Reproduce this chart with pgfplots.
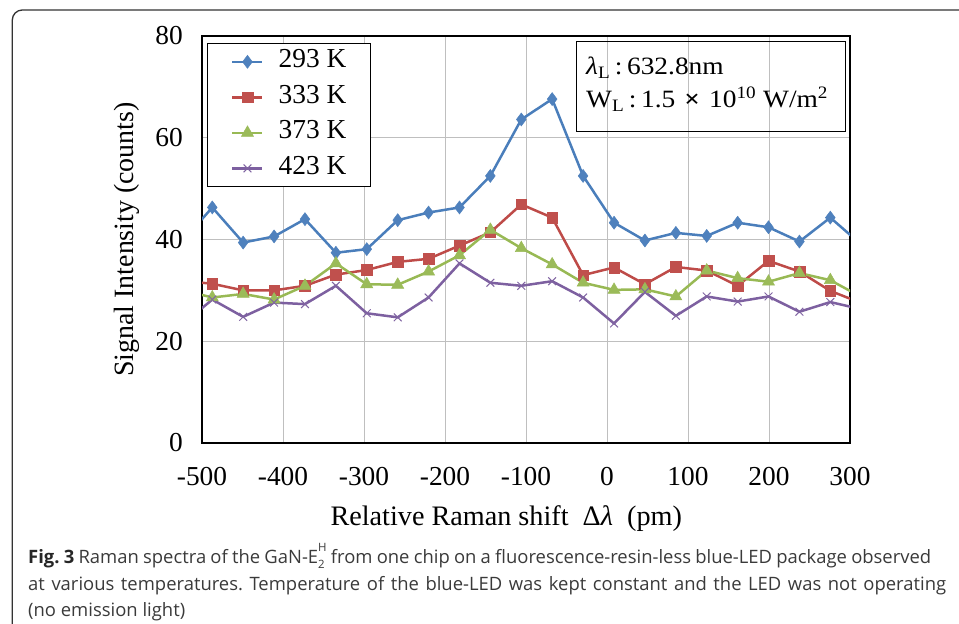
\documentclass[border=0pt]{standalone}
\usepackage{fontspec}
\setmainfont{Liberation Serif}
\newfontfamily\capfont{Open Sans}
\usepackage{graphicx}
\usepackage{pgfplots}
\pgfplotsset{compat=1.18}
\definecolor{cblue}{HTML}{4A7EBB}
\definecolor{cred}{HTML}{BE4B48}
\definecolor{cgreen}{HTML}{98B954}
\definecolor{cpurple}{HTML}{7D60A0}
\definecolor{mblue}{HTML}{4F81BD}
\definecolor{mred}{HTML}{C0504D}
\definecolor{mgreen}{HTML}{9BBB59}
\definecolor{mpurple}{HTML}{8064A2}
\definecolor{captxt}{HTML}{3A3A3A}

\pgfplotstableread{
x      a     b     c     d
-525.5 39.4  31.9  30.1  23.1
-487.3 46.3  31.3  28.6  28.2
-449.2 39.4  30.0  29.3  24.8
-411.0 40.6  30.0  28.2  27.6
-372.9 44.0  30.9  30.9  27.3
-334.7 37.4  33.1  35.3  30.9
-296.6 38.1  34.0  31.2  25.5
-258.4 43.8  35.6  31.1  24.7
-220.3 45.3  36.2  33.7  28.6
-182.1 46.3  38.8  36.9  35.3
-144.0 52.5  41.4  41.9  31.5
-105.8 63.6  46.9  38.3  30.9
-67.7  67.6  44.3  35.1  31.8
-29.5  52.5  33.0  31.5  28.6
8.7    43.3  34.5  30.1  23.5
46.8   39.8  31.2  30.2  29.7
85.0   41.3  34.6  28.8  25.0
123.1  40.7  33.9  33.9  28.8
161.3  43.3  30.9  32.4  27.8
199.4  42.4  35.8  31.7  28.8
237.6  39.6  33.7  33.4  25.8
275.7  44.3  29.9  32.0  27.7
313.9  39.0  27.5  28.7  26.3
}\datatable

\begin{document}
\frenchspacing
\begin{tikzpicture}
\path[use as bounding box] (0,0) rectangle (959bp,624bp);
\draw[line width=1.3bp, color=black!80] (12.3bp,-5bp) -- (12.3bp,604bp) arc[start angle=180,end angle=90,radius=10bp] -- (975bp,614bp);
\begin{axis}[
  at={(202bp,181bp)}, anchor=south west, scale only axis,
  width=648bp, height=407bp,
  xmin=-500, xmax=300, ymin=0, ymax=80,
  xtick={-500,-400,-300,-200,-100,0,100,200,300},
  xticklabels={-500,-400,-300,-200,-100,0,100,200,300},
  ytick={0,20,40,60,80},
  yticklabels={0,20,40,60,80},
  grid=major,
  major grid style={color=black!25, line width=1bp},
  axis line style={line width=2bp},
  major tick length=0pt,
  tick style={draw=none},
  ticklabel style={font=\fontsize{27.5}{27.5}\selectfont, inner sep=0pt},
  xticklabel style={anchor=north},
  yticklabel style={anchor=east},
  xticklabel shift=24bp,
  yticklabel shift=19bp,
  xlabel={Relative Raman shift\ \ Δ{\itshape λ}\ \ (pm)},
  xlabel style={font=\fontsize{28.3}{28.3}\selectfont, anchor=base, at={(axis description cs:0.4695,-0.2032)}, inner sep=0pt},
  ylabel={Signal Intensity (counts)},
  ylabel style={font=\fontsize{28}{28}\selectfont, rotate=0, anchor=base, at={(axis description cs:-0.105,0.5)}, inner sep=0pt},
  legend style={at={(0.0073,0.982)}, anchor=north west, draw=black, line width=1bp,
    inner xsep=24bp, inner ysep=5bp, row sep=9.5bp, column sep=15bp,
    font=\fontsize{27.5}{27.5}\selectfont,
    nodes={inner sep=0pt, text height=19bp, text depth=7bp}},
  legend cell align=left,
  legend image code/.code={\draw[mark repeat=2,mark phase=2] plot coordinates {(0bp,0bp) (15bp,0bp) (30bp,0bp)};},
]
\addplot[color=cblue, line width=2.5bp, mark=diamond*, mark size=6.5bp, mark options={fill=mblue, draw=mblue, line width=0.5bp}] table[x=x,y=a] {\datatable};
\addlegendentry{293 K\hspace{5bp}}
\addplot[color=cred, line width=2.5bp, mark=square*, mark size=5.3bp, mark options={fill=mred, draw=mred, line width=0.5bp}] table[x=x,y=b] {\datatable};
\addlegendentry{333 K\hspace{5bp}}
\addplot[color=cgreen, line width=2.5bp, mark=triangle*, mark size=7bp, mark options={fill=mgreen, draw=mgreen, line width=0.5bp}] table[x=x,y=c] {\datatable};
\addlegendentry{373 K\hspace{5bp}}
\addplot[color=cpurple, line width=2.5bp, mark=x, mark size=5.5bp, mark options={draw=mpurple, line width=1bp}] table[x=x,y=d] {\datatable};
\addlegendentry{423 K\hspace{5bp}}
\end{axis}
\draw[line width=1bp] (576.7bp,492.3bp) rectangle (845.7bp,582.3bp);
\node[anchor=base west, inner sep=0pt, font=\fontsize{25}{25}\selectfont] at (586bp,549bp) {\scalebox{1.1}[1]{{\itshape λ}\textsubscript{L}\,:\,632.8nm}};
\node[anchor=base west, inner sep=0pt, font=\fontsize{25}{25}\selectfont] at (586bp,516bp) {\scalebox{1.1}[1]{W\textsubscript{L}\,:\,1.5\,\,{\bfseries×}\,\,10\textsuperscript{10} W/m\textsuperscript{2}}};
\begin{scope}[every node/.style={anchor=base west, inner sep=0pt, font=\capfont\fontsize{18.5}{18.5}\selectfont, text=captxt}]
\node at (28bp,60.7bp) {\makebox[903bp][s]{{\bfseries\color{black!85}Fig. 3} Raman spectra of the GaN-E\rlap{\raisebox{-0.3em}{\fontsize{11.5}{11.5}\selectfont 2}}\raisebox{0.62em}{\fontsize{11.5}{11.5}\selectfont H} from one chip on a fluorescence-resin-less blue-LED package observed}};
\node at (28bp,34bp) {\makebox[918bp][s]{at various temperatures. Temperature of the blue-LED was kept constant and the LED was not operating}};
\node at (28bp,7.3bp) {(no emission light)};
\end{scope}
\end{tikzpicture}
\end{document}
